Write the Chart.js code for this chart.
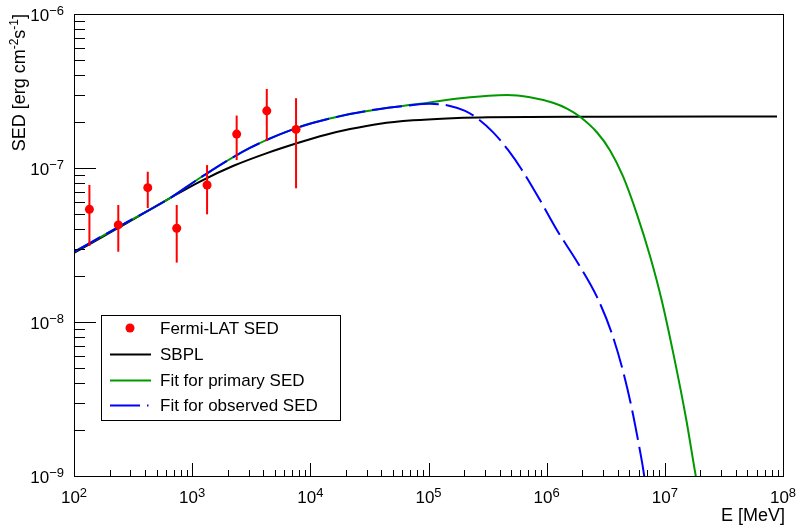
<!DOCTYPE html>
<html>
<head>
<meta charset="utf-8">
<script src="https://cdn.jsdelivr.net/npm/chart.js@4.4.0/dist/chart.umd.min.js"></script>
<style>
  html, body { margin: 0; padding: 0; background: #fff; }
  #wrap { width: 800px; height: 527px; }
</style>
</head>
<body>
<div id="wrap"><canvas id="sed" width="800" height="527"></canvas></div>
<script>
// Fermi-LAT points (MeV, erg cm^-2 s^-1)
const fermiE   = [135, 237, 421, 740, 1337, 2380, 4280, 7570];
const fermiSED = [5.39e-8, 4.27e-8, 7.45e-8, 4.06e-8, 7.76e-8, 1.66e-7, 2.35e-7, 1.78e-7];
const fermiHi  = [7.76e-8, 5.75e-8, 9.46e-8, 5.75e-8, 1.045e-7, 2.19e-7, 3.26e-7, 2.84e-7];
const fermiLo  = [3.12e-8, 2.86e-8, 5.49e-8, 2.43e-8, 5.00e-8, 1.127e-7, 1.50e-7, 7.38e-8];

// SBPL curve
const sbplE   = [100, 245, 649, 1164, 2213, 4294, 8180, 1.33e4, 2.17e4, 3.88e4, 7.39e4, 1.43e5, 2.73e5, 2.82e6, 8.9e7];
const sbplSED = [2.81e-8, 4.14e-8, 6.38e-8, 8.17e-8, 1.03e-7, 1.25e-7, 1.47e-7, 1.64e-7, 1.79e-7, 1.94e-7, 2.04e-7, 2.10e-7, 2.13e-7, 2.15e-7, 2.16e-7];

// fit for primary SED
const primE   = [100, 245, 649, 1160, 3080, 8170, 2.16e4, 3.88e4, 8.47e4, 1.96e5, 4.61e5, 7.22e5, 1.13e6, 1.486e6, 1.914e6, 2.67e6, 3.44e6, 4.43e6, 5.81e6, 7.48e6, 9.46e6, 1.19e7, 1.51e7, 1.84e7, 1.99e7];
const primSED = [2.85e-8, 4.20e-8, 6.38e-8, 8.61e-8, 1.35e-7, 1.85e-7, 2.24e-7, 2.42e-7, 2.61e-7, 2.85e-7, 2.98e-7, 2.88e-7, 2.65e-7, 2.43e-7, 2.15e-7, 1.70e-7, 1.30e-7, 8.81e-8, 5.00e-8, 2.69e-8, 1.36e-8, 6.05e-9, 2.38e-9, 9.7e-10, 7.0e-10];

// fit for observed SED
const obsE   = [100, 245, 649, 1160, 3080, 8170, 2.16e4, 3.88e4, 6.32e4, 1.03e5, 1.52e5, 2.04e5, 2.57e5, 3.51e5, 4.71e5, 6.18e5, 8.78e5, 1.22e6, 1.84e6, 2.67e6, 3.55e6, 4.45e6, 5.24e6, 6.08e6, 6.58e6, 6.94e6];
const obsSED = [2.85e-8, 4.20e-8, 6.38e-8, 8.61e-8, 1.35e-7, 1.85e-7, 2.24e-7, 2.42e-7, 2.53e-7, 2.61e-7, 2.53e-7, 2.35e-7, 2.11e-7, 1.71e-7, 1.31e-7, 9.71e-8, 6.19e-8, 3.96e-8, 2.41e-8, 1.45e-8, 8.49e-9, 4.73e-9, 2.77e-9, 1.54e-9, 1.09e-9, 8.1e-10];

// axis decades
const xDecades = [2, 3, 4, 5, 6, 7, 8];
const yDecades = [-9, -8, -7, -6];

const FONT = '"Liberation Sans", Arial, sans-serif';
const xy = (xs, ys) => xs.map((x, i) => ({ x: x, y: ys[i] }));

// text with superscripts: parts = [[text, isSup], ...]
function supWidth(ctx, parts, size, supSize) {
    let w = 0;
    parts.forEach(p => {
        ctx.font = (p[1] ? supSize : size) + 'px ' + FONT;
        w += ctx.measureText(p[0]).width;
    });
    return w;
}
function drawSup(ctx, parts, x, y, size, supSize, rise) {
    let cx = x;
    parts.forEach(p => {
        ctx.font = (p[1] ? supSize : size) + 'px ' + FONT;
        ctx.fillText(p[0], cx, p[1] ? y - rise : y);
        cx += ctx.measureText(p[0]).width;
    });
}

const rootAxes = {
    id: 'rootAxes',
    beforeDatasetDraw(chart, args) {
        // error bars under the Fermi markers
        if (args.index !== 0) return;
        const ctx = chart.ctx, xs = chart.scales.x, ys = chart.scales.y;
        ctx.save();
        ctx.strokeStyle = '#ff0000';
        ctx.lineWidth = 2;
        fermiE.forEach((e, i) => {
            const px = xs.getPixelForValue(e);
            ctx.beginPath();
            ctx.moveTo(px, ys.getPixelForValue(fermiLo[i]));
            ctx.lineTo(px, ys.getPixelForValue(fermiHi[i]));
            ctx.stroke();
        });
        ctx.restore();
    },
    afterDraw(chart) {
        const ctx = chart.ctx, a = chart.chartArea;
        const xs = chart.scales.x, ys = chart.scales.y;
        ctx.save();
        ctx.fillStyle = '#000';
        ctx.strokeStyle = '#000';
        ctx.lineWidth = 1;

        // frame
        ctx.strokeRect(Math.round(a.left) + 0.5, Math.round(a.top) + 0.5,
            Math.round(a.right - a.left), Math.round(a.bottom - a.top));

        // x ticks (inside, from bottom)
        ctx.beginPath();
        xDecades.forEach(d => {
            for (let k = 1; k <= 9; k++) {
                const v = k * Math.pow(10, d);
                if (v > xs.max * 1.0001) break;
                const px = Math.round(xs.getPixelForValue(v)) + 0.5;
                const len = k === 1 ? 13 : 6;
                ctx.moveTo(px, a.bottom);
                ctx.lineTo(px, a.bottom - len);
            }
        });
        // y ticks (inside, from left)
        yDecades.forEach(d => {
            for (let k = 1; k <= 9; k++) {
                const v = k * Math.pow(10, d);
                if (v > ys.max * 1.0001) break;
                const py = Math.round(ys.getPixelForValue(v)) + 0.5;
                const len = k === 1 ? 22 : 11;
                ctx.moveTo(a.left, py);
                ctx.lineTo(a.left + len, py);
            }
        });
        ctx.stroke();

        // tick labels
        ctx.textBaseline = 'alphabetic';
        ctx.textAlign = 'left';
        xDecades.forEach(d => {
            const parts = [['10', false], [String(d), true]];
            const w = supWidth(ctx, parts, 17, 13);
            const px = xs.getPixelForValue(Math.pow(10, d));
            drawSup(ctx, parts, px - w / 2, 503, 17, 13, 6);
        });
        yDecades.forEach(d => {
            const parts = [['10', false], ['\u2212' + Math.abs(d), true]];
            const w = supWidth(ctx, parts, 17, 13);
            const py = ys.getPixelForValue(Math.pow(10, d));
            drawSup(ctx, parts, 64 - w, py + 7, 17, 13, 6);
        });

        // axis titles
        const xt = [['E [MeV]', false]];
        drawSup(ctx, xt, a.right + 2 - supWidth(ctx, xt, 18, 12), 521, 18, 12, 6);
        const yt = [['SED [erg cm', false], ['-2', true], ['s', false], ['-1', true], [']', false]];
        const yw = supWidth(ctx, yt, 18, 12);
        ctx.translate(25, a.top);
        ctx.rotate(-Math.PI / 2);
        drawSup(ctx, yt, -yw, 0, 18, 12, 7);
        ctx.setTransform(1, 0, 0, 1, 0, 0);

        // legend box
        const lx = 101, ly = 315, lw = 239, lh = 105;
        ctx.fillStyle = '#fff';
        ctx.fillRect(lx, ly, lw, lh);
        ctx.strokeRect(lx + 0.5, ly + 0.5, lw, lh);
        const ds = chart.data.datasets;
        const entries = [ds[0], ds[3], ds[2], ds[1]];
        const rows = [328, 354, 380, 405];
        entries.forEach((d, i) => {
            const y = rows[i];
            if (d.showLine) {
                ctx.save();
                ctx.strokeStyle = d.borderColor;
                ctx.lineWidth = d.borderWidth;
                ctx.setLineDash(d.borderDash ? [30, 7, 1.5, 7] : []);
                ctx.beginPath();
                ctx.moveTo(110, y + 0.5);
                ctx.lineTo(151, y + 0.5);
                ctx.stroke();
                ctx.restore();
            } else {
                ctx.fillStyle = d.backgroundColor;
                ctx.beginPath();
                ctx.arc(130, y, 4.5, 0, Math.PI * 2);
                ctx.fill();
            }
            ctx.fillStyle = '#000';
            ctx.font = '17px ' + FONT;
            ctx.textBaseline = 'middle';
            ctx.fillText(d.label, 160, y + 1);
        });
        ctx.restore();
    }
};

const ctx = document.getElementById('sed').getContext('2d');

new Chart(ctx, {
    type: 'scatter',
    data: {
        datasets: [
            {
                label: 'Fermi-LAT SED',
                data: xy(fermiE, fermiSED),
                showLine: false,
                backgroundColor: '#ff0000',
                borderWidth: 0,
                pointRadius: 4.5,
                pointBorderWidth: 0
            },
            {
                label: 'Fit for observed SED',
                data: xy(obsE, obsSED),
                showLine: true,
                borderColor: '#0000ff',
                borderWidth: 2,
                borderDash: [30, 7],
                pointRadius: 0,
                cubicInterpolationMode: 'monotone',
                clip: 0
            },
            {
                label: 'Fit for primary SED',
                data: xy(primE, primSED),
                showLine: true,
                borderColor: '#009900',
                borderWidth: 2,
                pointRadius: 0,
                cubicInterpolationMode: 'monotone',
                clip: 0
            },
            {
                label: 'SBPL',
                data: xy(sbplE, sbplSED),
                showLine: true,
                borderColor: '#000000',
                borderWidth: 2,
                pointRadius: 0,
                cubicInterpolationMode: 'monotone',
                clip: 0
            }
        ]
    },
    options: {
        responsive: false,
        animation: false,
        events: [],
        layout: { padding: { top: 14, right: 17, left: 0, bottom: 0 } },
        plugins: {
            legend: { display: false },
            tooltip: { enabled: false }
        },
        scales: {
            x: {
                type: 'logarithmic',
                min: 100,
                max: 1e8,
                grid: { display: false },
                border: { display: false },
                ticks: { display: false },
                afterFit(scale) { scale.height = 51; }
            },
            y: {
                type: 'logarithmic',
                min: 1e-9,
                max: 1e-6,
                grid: { display: false },
                border: { display: false },
                ticks: { display: false },
                afterFit(scale) { scale.width = 74; }
            }
        }
    },
    plugins: [rootAxes]
});
</script>
</body>
</html>
